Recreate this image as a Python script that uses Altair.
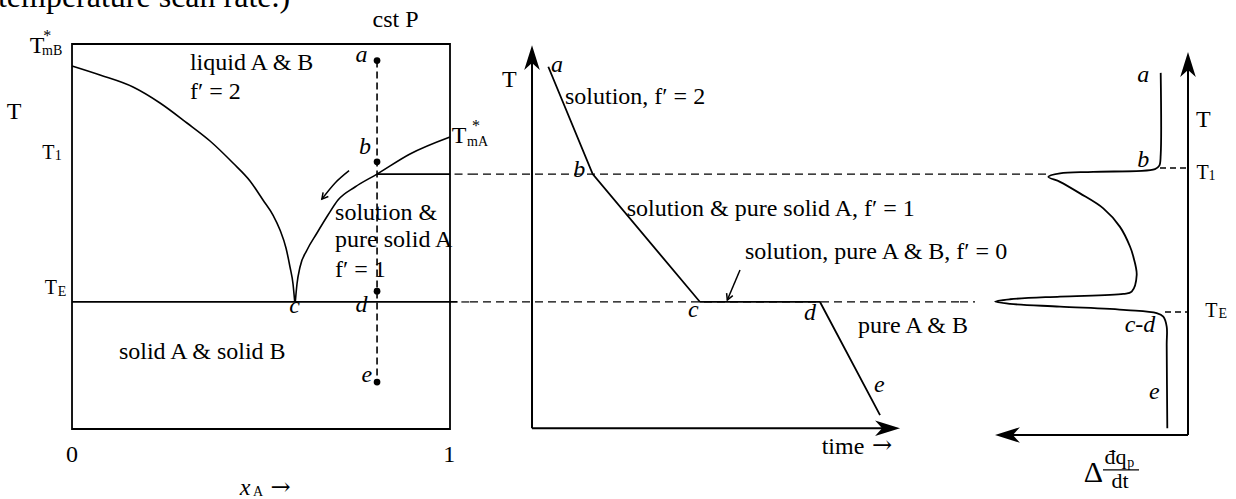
import altair as alt
import pandas as pd

FONT = "Liberation Serif"
ARROW_FONT = "DejaVu Serif"

# Temperature in arbitrary units, shared by all three panels
# (0 = bottom of the phase box, 100 = its top).
T_DOMAIN = [-18.18, 111.43]
T1 = 66.2
TE = 33.0

# ---------------- phase diagram: x_A vs T ----------------
LEFT_W = 470
XA_DOMAIN = [-0.1905, 1.0529]

liqB_xA = [0.0, 0.0741, 0.1614, 0.2328, 0.3042, 0.3651, 0.4259, 0.4709,
           0.5053, 0.5317, 0.5503, 0.5661, 0.5767, 0.5847, 0.5892]
liqB_T = [94.29, 91.95, 88.83, 84.68, 79.48, 74.81, 69.09, 64.42,
          59.48, 55.58, 51.69, 47.01, 42.08, 37.66, 33.0]
liqA_xA = [0.5907, 0.5952, 0.6032, 0.6217, 0.6481, 0.6772, 0.7037, 0.7487,
           0.8069, 0.8942, 1.0]
liqA_T = [33.0, 37.66, 42.08, 46.49, 50.91, 55.58, 59.48, 62.86,
          66.2, 71.43, 75.84]

iso_xA = 0.807
iso_names = ["a", "b", "d", "e"]
iso_T = [95.7, 69.4, 35.8, 12.2]

bend_xA = [0.661, 0.696, 0.733]
bend_T = [59.7, 63.9, 67.1]

# ---------------- cooling curve: time vs T ----------------
MID_W = 490
TIME_DOMAIN = [-1.685, 11.630]
cool_time = [0.443, 1.649, 4.565, 7.826, 9.457]
cool_T = [94.1, 66.2, 33.0, 33.0, 3.6]
time_axis_end = 10.0
T_axis_top = 99.7

# ---------------- thermogram: heat-flow signal vs T ----------------
RIGHT_W = 276
SIG_DOMAIN = [-2.4, 11.4]
dsc_sig = [1.365, 1.365, 1.435, 1.65, 4.735, 6.4, 6.985, 6.4, 5.4, 4.235, 3.4,
           2.9, 2.735, 2.565, 2.815, 3.235, 6.4, 8.9, 9.65, 8.9, 6.4, 3.065,
           1.565, 1.235, 1.065, 1.065, 1.035]
dsc_T = [92.5, 71.2, 68.4, 67.5, 66.8, 66.4, 65.5, 64.2, 61.2, 57.3, 52.5,
         47.4, 44.8, 40.0, 35.7, 35.1, 34.4, 33.7, 33.1, 32.5, 31.8, 30.9,
         30.1, 29.2, 26.6, 21.8, 0.2]

H = 499
BLACK = "black"
DASH = [8, 5]

# arrowhead outlines, tip at the origin, pointing up
HEAD_FILLED = "M0,0 L0.5,1.6 L0,1.15 L-0.5,1.6 Z"
HEAD_OPEN = "M-0.55,1 L0,0 L0.55,1"


def enc(xdom, reverse=False):
    sx = alt.Scale(domain=xdom, nice=False, zero=False, reverse=reverse)
    sy = alt.Scale(domain=T_DOMAIN, nice=False, zero=False)
    return (alt.X("x:Q", scale=sx, axis=None),
            alt.Y("T:Q", scale=sy, axis=None))


def seg(xdom, x0, x1, t, dash=None, width=1.5, reverse=False):
    df = pd.DataFrame({"x": [x0, x1], "T": [t, t]})
    X, Y = enc(xdom, reverse)
    kw = dict(color=BLACK, strokeWidth=width)
    if dash:
        kw["strokeDash"] = dash
    return alt.Chart(df).mark_line(**kw).encode(x=X, y=Y)


def vseg(xdom, x, t0, t1, dash=None, width=1.5, reverse=False):
    df = pd.DataFrame({"x": [x, x], "T": [t0, t1], "o": [0, 1]})
    X, Y = enc(xdom, reverse)
    kw = dict(color=BLACK, strokeWidth=width)
    if dash:
        kw["strokeDash"] = dash
    return alt.Chart(df).mark_line(**kw).encode(x=X, y=Y, order="o:Q")


def path(xdom, xs, ts, interp="linear", width=1.6, ordered=False, reverse=False):
    df = pd.DataFrame({"x": xs, "T": ts, "o": list(range(len(xs)))})
    X, Y = enc(xdom, reverse)
    ch = alt.Chart(df).mark_line(color=BLACK, strokeWidth=width, interpolate=interp)
    if ordered:
        return ch.encode(x=X, y=Y, order="o:Q")
    return ch.encode(x=X, y=Y)


def heads(xdom, rows, shape, size, filled=True, reverse=False):
    df = pd.DataFrame(rows, columns=["x", "T", "ang"])
    X, Y = enc(xdom, reverse)
    return alt.Chart(df).mark_point(
        shape=shape, size=size, filled=filled, color=BLACK, opacity=1,
        strokeWidth=1.5,
    ).encode(x=X, y=Y, angle=alt.Angle("ang:Q", scale=None))


def texts(xdom, rows, italic=False, align="center", baseline="middle",
          reverse=False, clip=False, font=FONT):
    df = pd.DataFrame(rows, columns=["label", "x", "T", "fs"])
    X, Y = enc(xdom, reverse)
    return alt.Chart(df).mark_text(
        font=font, fontStyle="italic" if italic else "normal",
        align=align, baseline=baseline, color=BLACK, clip=clip,
    ).encode(x=X, y=Y, text="label:N",
             size=alt.Size("fs:Q", scale=None, legend=None))


# ---------- left panel ----------
box = alt.Chart(pd.DataFrame({"x": [0.0], "x2": [1.0], "T": [0.0], "T2": [100.0]})).mark_rect(
    fillOpacity=0, stroke=BLACK, strokeWidth=1.8
).encode(
    x=enc(XA_DOMAIN)[0], x2="x2:Q", y=enc(XA_DOMAIN)[1], y2="T2:Q"
)

iso_df = pd.DataFrame({"x": [iso_xA] * 4, "T": iso_T, "name": iso_names})
iso_dots = alt.Chart(iso_df).mark_circle(size=45, color=BLACK, opacity=1).encode(
    x=enc(XA_DOMAIN)[0], y=enc(XA_DOMAIN)[1]
)

left = alt.layer(
    texts(XA_DOMAIN, [("temperature scan rate.)", -0.196, 109.7, 32)],
          align="left", baseline="alphabetic", clip=True),
    box,
    path(XA_DOMAIN, liqB_xA, liqB_T, interp="monotone"),
    path(XA_DOMAIN, liqA_xA, liqA_T, interp="monotone"),
    seg(XA_DOMAIN, 0.0, 1.02, TE, width=1.8),
    seg(XA_DOMAIN, 1.03, 1.0529, TE, dash=DASH, width=1.2),
    seg(XA_DOMAIN, iso_xA, 1.0, T1, width=1.6),
    seg(XA_DOMAIN, 1.012, 1.0529, T1, dash=DASH, width=1.2),
    vseg(XA_DOMAIN, iso_xA, iso_T[0], iso_T[-1], dash=[7, 4], width=1.6),
    iso_dots,
    path(XA_DOMAIN, bend_xA, bend_T, interp="monotone", width=1.5),
    heads(XA_DOMAIN, [(bend_xA[0], bend_T[0], 219)], HEAD_OPEN, 150, filled=False),
    texts(XA_DOMAIN, [
        ("cst P", 0.856, 106.2, 24),
        ("0", 0.0, -6.75, 24),
        ("1", 0.998, -6.75, 24),
        ("T", -0.153, 82.3, 24),
        ("T", -0.0627, 71.6, 20), ("1", -0.0362, 71.0, 14),
        ("T", -0.0561, 36.5, 20), ("E", -0.0265, 35.6, 14),
        ("T", -0.0921, 99.5, 24), ("mB", -0.0524, 98.1, 14), ("*", -0.0653, 102.0, 16),
        ("T", 1.0243, 76.2, 24), ("mA", 1.0728, 74.6, 14), ("*", 1.0688, 78.8, 16),
        ("A", 0.492, -16.3, 14),
    ]),
    texts(XA_DOMAIN, [("\u2192", 0.552, -15.4, 24)], font=ARROW_FONT),
    texts(XA_DOMAIN, [
        ("liquid A & B", 0.312, 95.1, 24),
        ("f\u2032 = 2", 0.312, 87.5, 24),
        ("solution &", 0.696, 56.1, 24),
        ("pure solid A", 0.696, 49.1, 24),
        ("f\u2032 = 1", 0.696, 41.3, 24),
        ("solid A & solid B", 0.124, 20.1, 24),
    ], align="left"),
    texts(XA_DOMAIN, [
        ("a", 0.766, 97.1, 24), ("b", 0.775, 73.3, 24),
        ("c", 0.589, 31.9, 24), ("d", 0.766, 32.2, 24),
        ("e", 0.780, 14.0, 24),
        ("x", 0.4577, -15.4, 24),
    ], italic=True),
).properties(width=LEFT_W, height=H)

# ---------- middle panel ----------
mid = alt.layer(
    seg(TIME_DOMAIN, TIME_DOMAIN[0], TIME_DOMAIN[1], T1, dash=DASH, width=1.2),
    seg(TIME_DOMAIN, TIME_DOMAIN[0], TIME_DOMAIN[1], TE, dash=DASH, width=1.2),
    vseg(TIME_DOMAIN, 0.0, 0.2, T_axis_top - 1.5, width=2),
    seg(TIME_DOMAIN, 0.0, time_axis_end - 0.3, 0.2, width=2),
    heads(TIME_DOMAIN, [(0.0, T_axis_top, 0), (time_axis_end, 0.2, 90)], HEAD_FILLED, 970),
    path(TIME_DOMAIN, cool_time, cool_T, width=1.8, ordered=True),
    path(TIME_DOMAIN, [5.307, 5.652], [33.5, 41.3], width=1.5),
    heads(TIME_DOMAIN, [(5.307, 33.5, 203)], HEAD_OPEN, 150, filled=False),
    texts(TIME_DOMAIN, [
        ("T", -0.617, 90.6, 24),
    ]),
    texts(TIME_DOMAIN, [("\u2192", 9.51, -4.3, 24)], font=ARROW_FONT),
    texts(TIME_DOMAIN, [
        ("solution, f\u2032 = 2", 0.897, 86.3, 24),
        ("solution & pure solid A, f\u2032 = 1", 2.573, 57.1, 24),
        ("solution, pure A & B, f\u2032 = 0", 5.788, 46.1, 24),
        ("pure A & B", 8.859, 26.8, 24),
        ("time", 7.872, -4.6, 24),
    ], align="left"),
    texts(TIME_DOMAIN, [
        ("a", 0.679, 94.5, 24), ("b", 1.285, 67.3, 24),
        ("c", 4.383, 30.9, 24), ("d", 7.554, 30.1, 24),
        ("e", 9.438, 11.4, 24),
    ], italic=True),
).properties(width=MID_W, height=H)

# ---------- right panel ----------
R = dict(reverse=True)
right = alt.layer(
    seg(SIG_DOMAIN, SIG_DOMAIN[1], 7.0, T1, dash=DASH, width=1.2, **R),
    seg(SIG_DOMAIN, SIG_DOMAIN[1], 10.65, TE, dash=DASH, width=1.2, **R),
    seg(SIG_DOMAIN, 1.4, 0.0, 67.8, dash=[6, 4], width=1.5, **R),
    seg(SIG_DOMAIN, 1.15, 0.0, 30.4, dash=[6, 4], width=1.5, **R),
    vseg(SIG_DOMAIN, 0.0, -1.56, 96.5, width=2, **R),
    seg(SIG_DOMAIN, 0.0, 9.35, -1.56, width=2, **R),
    heads(SIG_DOMAIN, [(0.0, 97.9, 0), (9.65, -1.56, 270)], HEAD_FILLED, 970, **R),
    path(SIG_DOMAIN, dsc_sig, dsc_T, interp="catmull-rom", width=1.8, ordered=True, **R),
    texts(SIG_DOMAIN, [
        ("T", -0.765, 80.3, 24),
        ("T", -0.725, 66.6, 20), ("1", -1.2, 65.6, 14),
        ("T", -1.165, 30.7, 20), ("E", -1.74, 29.8, 14),
        ("\u0394", 4.735, -11.5, 30),
        ("\u0111q", 3.62, -7.4, 22), ("p", 2.86, -8.9, 14),
        ("dt", 3.4, -13.4, 22),
    ], **R),
    seg(SIG_DOMAIN, 4.25, 2.45, -10.6, width=1.2, **R),
    texts(SIG_DOMAIN, [
        ("a", 2.235, 91.9, 24), ("b", 2.235, 69.9, 24),
        ("c-d", 2.4, 27.0, 24), ("e", 1.685, 9.7, 24),
    ], italic=True, **R),
).properties(width=RIGHT_W, height=H)

chart = alt.hconcat(left, mid, right, spacing=0, bounds="flush").properties(
    padding=0
).configure_view(stroke=None)

chart.save("out.html", embed_options={"renderer": "svg", "actions": False})
